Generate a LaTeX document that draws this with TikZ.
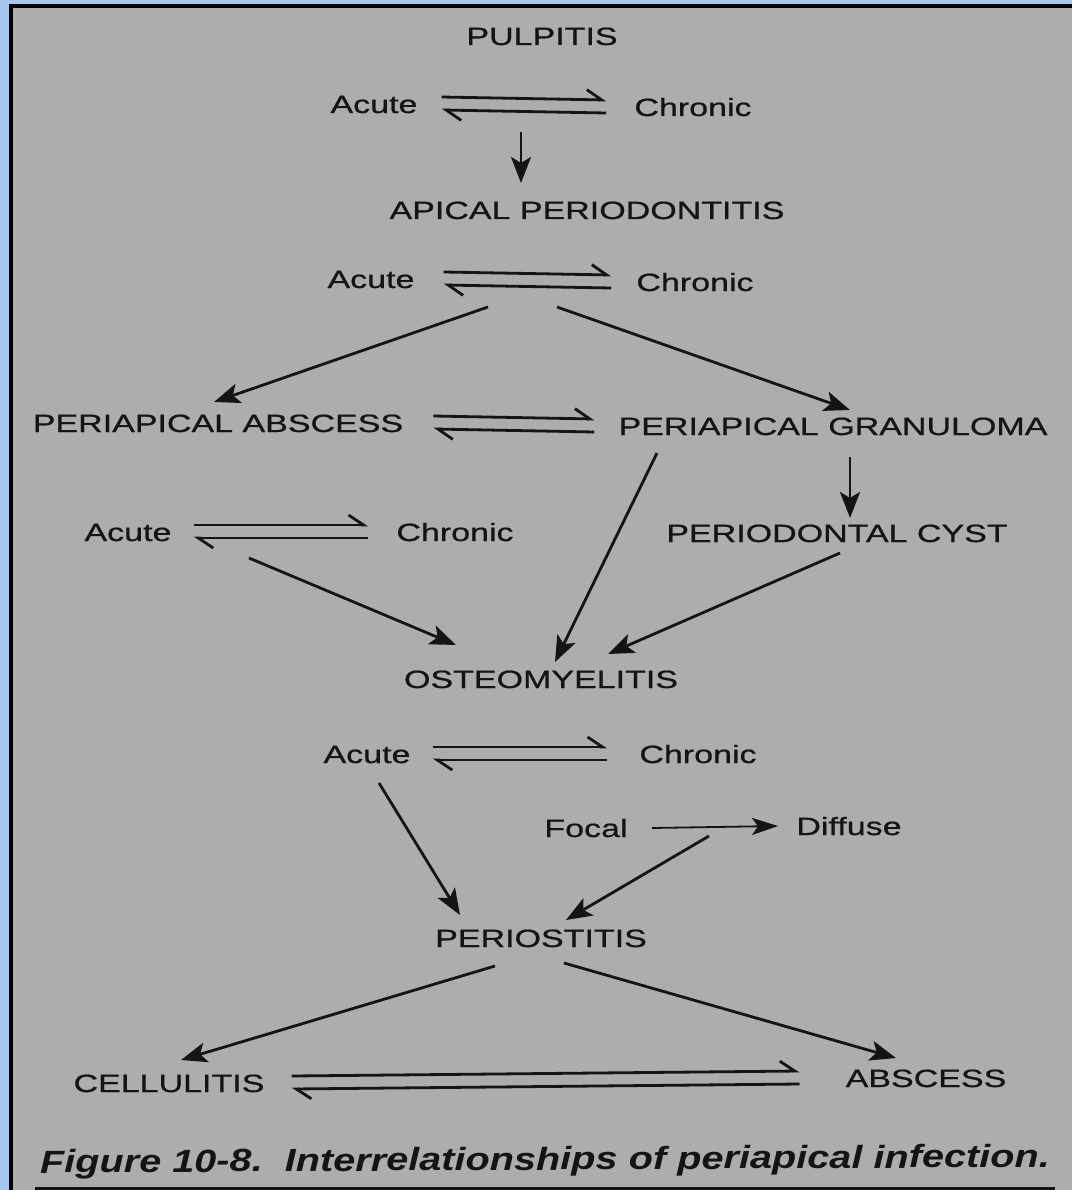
\documentclass[tikz,border=0pt]{standalone}
\usepackage{fontspec}
\setmainfont{Liberation Sans}[FakeStretch=1.36,FakeBold=0.7]
\newfontfamily\captionfont{Liberation Sans}[FakeStretch=1.24]
\usetikzlibrary{arrows.meta}

\definecolor{paper}{RGB}{173,173,175}
\definecolor{sky}{RGB}{168,198,238}
\definecolor{ink}{RGB}{20,20,22}

\tikzset{
  lbl/.style={anchor=base, inner sep=0pt, text=ink, font=\fontsize{25}{30}\selectfont},
  arr/.style={draw=ink, line width=2.8pt, -{Stealth[length=26pt,width=20pt,inset=6pt]}},
  thinarr/.style={draw=ink, line width=1.8pt, -{Stealth[length=26pt,width=17pt,inset=6pt]}},
  harp/.style={draw=ink, line width=2.8pt, -{Straight Barb[harpoon,length=15pt,width=20pt]}}
}

\begin{document}
\begin{tikzpicture}[x=1pt,y=-1pt]
        \useasboundingbox (0,0) rectangle (1072,1190);

        % Page and frame
        \fill[sky] (0,0) rectangle (1072,1190);
        \fill[black] (9,4) rectangle (1072,1190);
        \fill[paper] (13,8) rectangle (1072,1190);
        \draw[ink, line width=3pt] (35,1188) -- (1055,1188);

        % Pulpitis
        \node[lbl] (pulp) at (542,45) {PULPITIS};
        \node[lbl] (ac1) at (374,113) {Acute};
        \node[lbl] (ch1) at (693,116) {Chronic};

        % Apical periodontitis
        \node[lbl] (api) at (587,219) {APICAL PERIODONTITIS};
        \node[lbl] (ac2) at (371,288) {Acute};
        \node[lbl] (ch2) at (695,291) {Chronic};

        % Abscess / granuloma / cyst
        \node[lbl] (pab) at (218,432) {PERIAPICAL ABSCESS};
        \node[lbl] (pg) at (833,435) {PERIAPICAL GRANULOMA};
        \node[lbl] (ac3) at (128,541) {Acute};
        \node[lbl] (ch3) at (455,541) {Chronic};
        \node[lbl] (pc) at (837,542) {PERIODONTAL CYST};

        % Osteomyelitis
        \node[lbl] (ost) at (541,688) {OSTEOMYELITIS};
        \node[lbl] (ac4) at (367,763) {Acute};
        \node[lbl] (ch4) at (698,763) {Chronic};
        \node[lbl] (foc) at (586,837) {Focal};
        \node[lbl] (dif) at (849,835) {Diffuse};

        % Periostitis
        \node[lbl] (per) at (541,947) {PERIOSTITIS};
        \node[lbl] (cel) at (169,1092) {CELLULITIS};
        \node[lbl] (abs) at (926,1087) {ABSCESS};

        % Acute <-> chronic
        \draw[harp] ([xshift=24pt,yshift=16pt]ac1.base east) -- ([xshift=-28pt,yshift=16pt]ch1.base west);
        \draw[harp] ([xshift=-28pt,yshift=3pt]ch1.base west) -- ([xshift=24pt,yshift=3pt]ac1.base east);
        \draw[harp] ([xshift=29pt,yshift=16pt]ac2.base east) -- ([xshift=-25pt,yshift=16pt]ch2.base west);
        \draw[harp] ([xshift=-25pt,yshift=3pt]ch2.base west) -- ([xshift=29pt,yshift=3pt]ac2.base east);
        \draw[harp] ([xshift=30pt,yshift=16pt]pab.base east) -- ([xshift=-24pt,yshift=16pt]pg.base west);
        \draw[harp] ([xshift=-24pt,yshift=3pt]pg.base west) -- ([xshift=30pt,yshift=3pt]pab.base east);
        \draw[harp] ([xshift=22pt,yshift=16pt]ac3.base east) -- ([xshift=-28pt,yshift=16pt]ch3.base west);
        \draw[harp] ([xshift=-28pt,yshift=3pt]ch3.base west) -- ([xshift=22pt,yshift=3pt]ac3.base east);
        \draw[harp] ([xshift=22pt,yshift=16pt]ac4.base east) -- ([xshift=-32pt,yshift=16pt]ch4.base west);
        \draw[harp] ([xshift=-32pt,yshift=3pt]ch4.base west) -- ([xshift=22pt,yshift=3pt]ac4.base east);
        \draw[harp] ([xshift=27pt,yshift=16pt]cel.base east) -- ([xshift=-46pt,yshift=16pt]abs.base west);
        \draw[harp] ([xshift=-46pt,yshift=3pt]abs.base west) -- ([xshift=27pt,yshift=3pt]cel.base east);

        % Arrows
        \draw[arr] ([xshift=147pt,yshift=-19pt]ac1.base) -- ([xshift=-66pt,yshift=36pt]api.base);
        \draw[arr] ([xshift=117pt,yshift=-19pt]ac2.base) -- ([xshift=-4pt,yshift=30pt]pab.base);
        \draw[arr] ([xshift=-138pt,yshift=-16pt]ch2.base) -- ([xshift=17pt,yshift=25pt]pg.base);
        \draw[arr] ([xshift=17pt,yshift=-22pt]pg.base) -- ([xshift=13pt,yshift=24pt]pc.base);
        \draw[arr] ([xshift=121pt,yshift=-17pt]ac3.base) -- ([xshift=-85pt,yshift=43pt]ost.base);
        \draw[arr] ([xshift=-176pt,yshift=-18pt]pg.base) -- ([xshift=14pt,yshift=26pt]ost.base);
        \draw[arr] ([xshift=3pt,yshift=-11pt]pc.base) -- ([xshift=67pt,yshift=34pt]ost.base);
        \draw[arr] ([xshift=12pt,yshift=-20pt]ac4.base) -- ([xshift=-81pt,yshift=32pt]per.base);
        \draw[thinarr] ([xshift=66pt,yshift=9pt]foc.base) -- ([xshift=-71pt,yshift=9pt]dif.base);
        \draw[arr] ([xshift=123pt,yshift=1pt]foc.base) -- ([xshift=25pt,yshift=27pt]per.base);
        \draw[arr] ([xshift=-46pt,yshift=-19pt]per.base) -- ([xshift=12pt,yshift=32pt]cel.base);
        \draw[arr] ([xshift=23pt,yshift=-16pt]per.base) -- ([xshift=-30pt,yshift=29pt]abs.base);

        % Caption
        \node[anchor=base, inner sep=0pt, text=ink, rotate=0.34,
              font=\captionfont\bfseries\itshape\fontsize{32}{36}\selectfont]
              (cap) at (545,1170) {Figure 10-8.\ \ Interrelationships of periapical infection.};
\end{tikzpicture}
\end{document}
